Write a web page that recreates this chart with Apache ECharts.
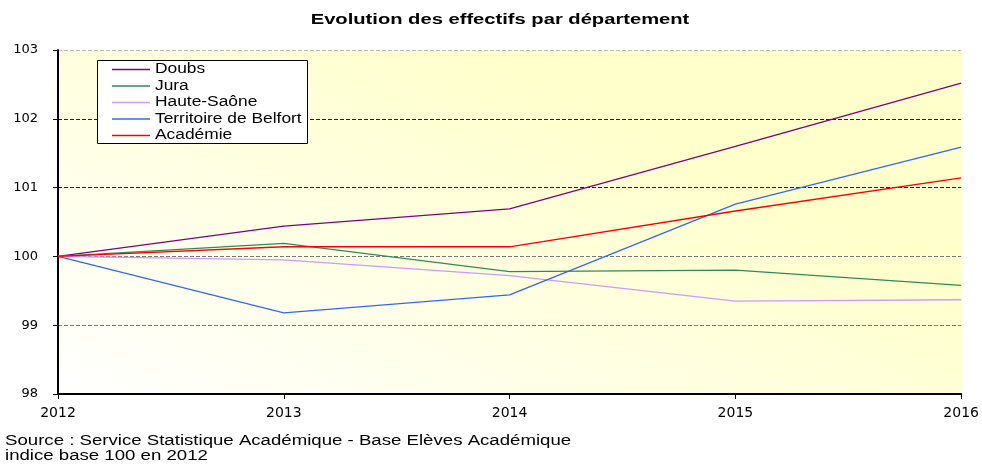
<!DOCTYPE html>
<html><head><meta charset="utf-8">
<script src="https://cdn.jsdelivr.net/npm/echarts@6/dist/echarts.min.js"></script>
<style>html,body{margin:0;padding:0;background:#fff}#c{width:982px;height:464px}</style>
</head><body><div id="c"></div>
<script>
const years = ['2012','2013','2014','2015','2016'];
const doubs = [100, 100.44, 100.69, 101.60, 102.52];
const jura = [100, 100.19, 99.78, 99.80, 99.58];
const hauteSaone = [100, 99.95, 99.72, 99.35, 99.37];
const belfort = [100, 99.18, 99.44, 100.76, 101.59];
const academie = [100, 100.14, 100.14, 100.66, 101.14];
const names = ['Doubs','Jura','Haute-Saône','Territoire de Belfort','Académie'];
const colors = ['#800080','#2E8B57','#CC99FF','#3366FF','#FF0000'];
const seriesData = [doubs, jura, hauteSaone, belfort, academie];

const chart = echarts.init(document.getElementById('c'));
const font = 'Liberation Sans, Arial, sans-serif';

const legendGraphics = [{type:'rect',shape:{x:97.5,y:60.5,width:210,height:83},
  style:{fill:'#fff',stroke:'#000',lineWidth:1},z:10}];
names.forEach((n,i)=>{
  const cy = 69.5 + i*16.5;
  legendGraphics.push({type:'line',shape:{x1:112,y1:cy,x2:150,y2:cy},style:{stroke:colors[i],lineWidth:1.3},z:11});
  legendGraphics.push({type:'text',x:155,y:cy,scaleX:1.24,z:11,
    style:{text:n,font:'14px '+font,fill:'#000',verticalAlign:'middle'}});
});

chart.setOption({
  animation:false,
  color:colors,
  grid:{left:58,right:19,top:50,bottom:70,show:true,borderWidth:0,
    backgroundColor:new echarts.graphic.LinearGradient(58,394,300,-100,[{offset:0,color:'#ffffff'},{offset:0.9,color:'#ffffcc'},{offset:1,color:'#ffffcc'}],true)},
  legend:{show:false,data:names},
  xAxis:{type:'category',data:years,boundaryGap:false,
    axisLine:{lineStyle:{color:'#000',width:2}},
    axisTick:{show:true,length:5,lineStyle:{color:'#000'}},
    axisLabel:{fontFamily:'DejaVu Sans',fontSize:14,color:'#000',margin:12},
    splitLine:{show:false}},
  yAxis:{type:'value',min:98,max:103,interval:1,
    axisLine:{show:true,lineStyle:{color:'#000',width:2}},
    axisTick:{show:true,length:5,lineStyle:{color:'#000'}},
    axisLabel:{fontFamily:'DejaVu Sans',fontSize:13,color:'#000',margin:20},
    splitLine:{show:true,lineStyle:{color:['#777','#777','#777','#222','#222','#bbb'],type:[4,2],width:1}}},
  series:seriesData.map((d,i)=>({name:names[i],type:'line',data:d,symbol:'none',
    lineStyle:{color:colors[i],width:1.3},itemStyle:{color:colors[i]}})),
  graphic:[
    {type:'text',x:500,y:20,scaleX:1.44,style:{text:'Evolution des effectifs par département',font:'bold 14px '+font,fill:'#000',align:'center',verticalAlign:'middle'}},
    {type:'text',x:5,y:441,scaleX:1.33,style:{text:'Source : Service Statistique Académique - Base Elèves Académique',font:'14px '+font,fill:'#000',verticalAlign:'middle'}},
    {type:'text',x:5,y:456,scaleX:1.33,style:{text:'indice base 100 en 2012',font:'14px '+font,fill:'#000',verticalAlign:'middle'}}
  ].concat(legendGraphics)
});
</script></body></html>
